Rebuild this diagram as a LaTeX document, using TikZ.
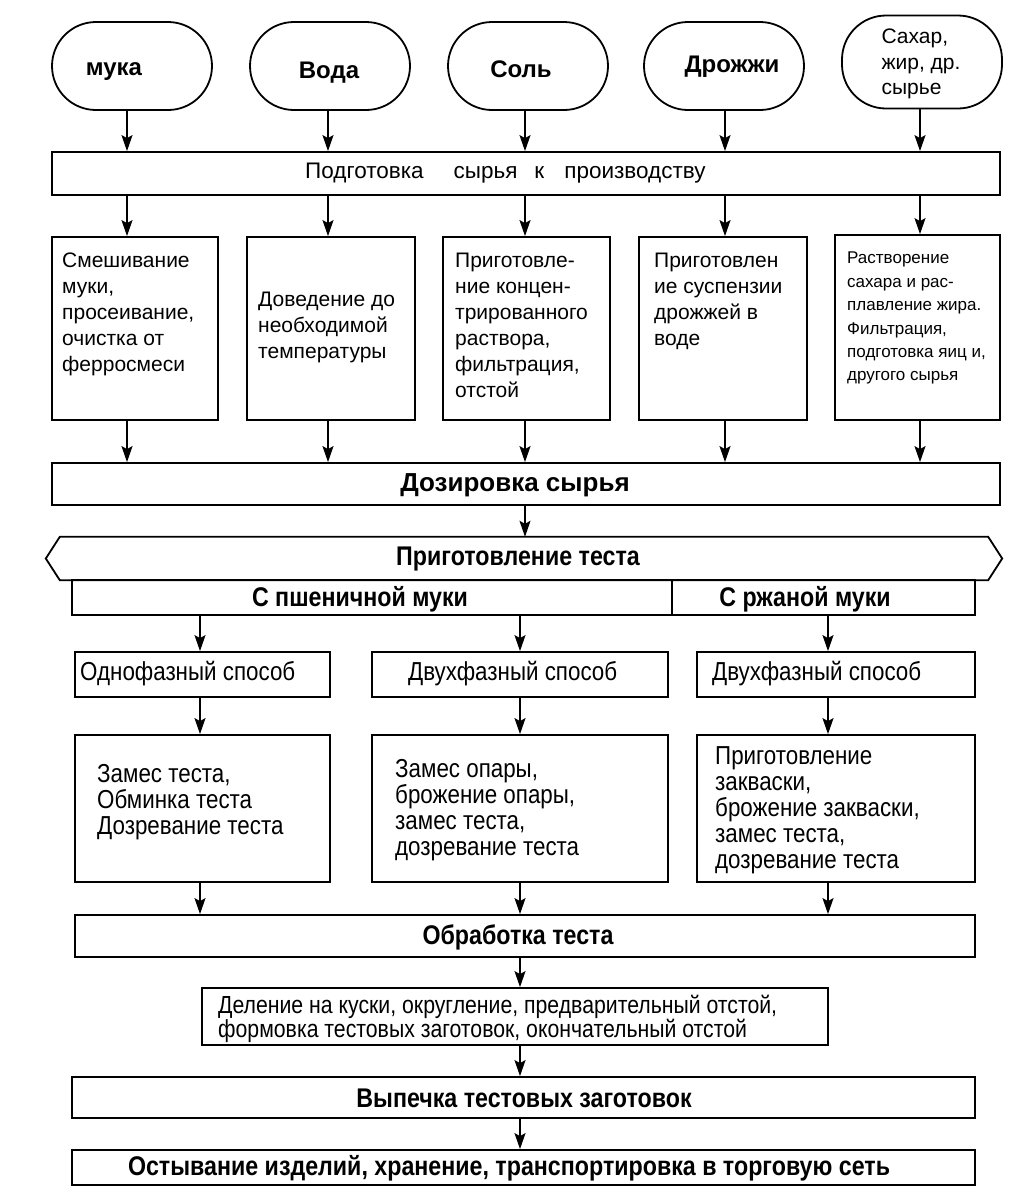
\documentclass[tikz,border=0pt]{standalone}
\usepackage{fontspec}
\setmainfont{Liberation Sans}
\newfontfamily\cond[FakeStretch=0.86]{Liberation Sans}
\usetikzlibrary{arrows.meta,calc}
\begin{document}
\begin{tikzpicture}[x=1pt,y=-1pt,
  box/.style={draw, line width=1.8pt, rectangle, inner sep=0pt},
  oval/.style={draw, line width=1.8pt, rounded corners=44pt, minimum width=160pt, minimum height=88pt, inner sep=0pt},
  ovtxt/.style={anchor=base, inner sep=0pt, font=\bfseries\fontsize{24}{28}\selectfont},
  arr/.style={line width=1.4pt, -{Stealth[length=16pt,width=11pt,inset=3pt]}},
  txt/.style={anchor=north west, inner sep=0pt, align=left, font=\fontsize{21}{26}\selectfont},
  ctxt/.style={anchor=north west, inner sep=0pt, align=left, font=\cond\fontsize{26}{26}\selectfont},
  btxt/.style={inner sep=0pt, font=\bfseries\fontsize{26}{28}\selectfont},
  cbtxt/.style={inner sep=0pt, font=\cond\bfseries\fontsize{27}{28}\selectfont}
]
\useasboundingbox[fill=white] (0,0) rectangle (1024,1203);
% column coordinates
\coordinate (c1) at (127,0);
\coordinate (c2) at (328,0);
\coordinate (c3) at (525,0);
\coordinate (c4) at (725,0);
\coordinate (c5) at (920,0);
\coordinate (w1) at (200,0);
\coordinate (w2) at (520,0);
\coordinate (w3) at (828,0);
\coordinate (ax) at (520,0);
% ovals
\node[oval] (o1) at (132,66) {};
\node[oval] (o2) at (330,66) {};
\node[oval] (o3) at (528,66) {};
\node[oval] (o4) at (724,66) {};
\node[oval, minimum height=93pt] (o5) at (922,62) {};
\node[ovtxt] (o1t) at (114,75) {мука};
\node[ovtxt] (o2t) at (329,78) {Вода};
\node[ovtxt] (o3t) at (521,77) {Соль};
\node[ovtxt] (o4t) at (732,72) {Дрожжи};
\node[inner sep=0pt, align=left, font=\fontsize{21}{25.5}\selectfont] (o5t) at (921,64) {Сахар,\\жир, др.\\сырье};
% preparation
\node[box, minimum width=948pt, minimum height=43pt] (prep) at (526,173.5) {};
\node[anchor=west, inner sep=0pt, font=\fontsize{22.5}{26}\selectfont] (prept) at (305,173) {Подготовка\hspace{30pt}сырья\hspace{17pt}к\hspace{20pt}производству};
\foreach \i in {1,...,5}{\draw[arr] (o\i.south -| c\i) -- (prep.north -| c\i);}
% second row
\node[box, minimum width=166pt, minimum height=183pt] (b1) at (135,328.5) {};
\node[box, minimum width=168pt, minimum height=183pt] (b2) at (331,328.5) {};
\node[box, minimum width=167pt, minimum height=183pt] (b3) at (526.5,328.5) {};
\node[box, minimum width=168pt, minimum height=183pt] (b4) at (723,328.5) {};
\node[box, minimum width=165pt, minimum height=185pt] (b5) at (917.5,327.5) {};
\node[txt] (t1) at (62,253) {Смешивание\\муки,\\просеивание,\\очистка от\\ферросмеси};
\node[txt] (t2) at (258,292) {Доведение до\\необходимой\\температуры};
\node[txt] (t3) at (455,253) {Приготовле-\\ние концен-\\трированного\\раствора,\\фильтрация,\\отстой};
\node[txt] (t4) at (654,253) {Приготовлен\\ие суспензии\\дрожжей в\\воде};
\node[txt, font=\fontsize{17}{23.4}\selectfont] (t5) at (847,252) {Растворение\\сахара и рас-\\плавление жира.\\Фильтрация,\\подготовка яиц и,\\другого сырья};
% dosing
\node[box, minimum width=948pt, minimum height=42pt] (doz) at (526,484) {};
\node[btxt] (dozt) at (515,485) {Дозировка сырья};
\foreach \i in {1,...,5}{
  \draw[arr] (prep.south -| c\i) -- (b\i.north -| c\i);
  \draw[arr] (b\i.south -| c\i) -- (doz.north -| c\i);
}
% dough preparation (hexagon)
\node[minimum width=928pt, minimum height=43pt, inner sep=0pt] (hex) at (524,558.5) {};
\draw[line width=1.8pt] (hex.north west) -- (hex.north east) -- ($(hex.east)+(14,0)$) -- (hex.south east) -- (hex.south west) -- ($(hex.west)+(-14,0)$) -- cycle;
\node[cbtxt] (hext) at (518,559) {Приготовление теста};
\draw[arr] (doz.south -| c3) -- (hex.north -| c3);
% wheat / rye
\node[box, minimum width=600pt, minimum height=35pt] (wh) at (372,597.5) {};
\node[box, minimum width=303pt, minimum height=35pt] (ry) at (823.5,597.5) {};
\node[cbtxt] (wht) at (360,599) {С пшеничной муки};
\node[cbtxt] (ryt) at (805,599) {С ржаной муки};
% methods
\node[box, minimum width=255pt, minimum height=45pt] (m1) at (202.5,674.5) {};
\node[box, minimum width=296pt, minimum height=45pt] (m2) at (520,674.5) {};
\node[box, minimum width=278pt, minimum height=45pt] (m3) at (836,674.5) {};
\node[ctxt, anchor=west] (m1t) at (80,674) {Однофазный способ};
\node[ctxt, anchor=west] (m2t) at (408,674) {Двухфазный способ};
\node[ctxt, anchor=west] (m3t) at (712,674) {Двухфазный способ};
\draw[arr] (wh.south -| w1) -- (m1.north -| w1);
\draw[arr] (wh.south -| w2) -- (m2.north -| w2);
\draw[arr] (ry.south -| w3) -- (m3.north -| w3);
% operations
\node[box, minimum width=255pt, minimum height=147pt] (n1) at (202.5,808.5) {};
\node[box, minimum width=296pt, minimum height=147pt] (n2) at (520,808.5) {};
\node[box, minimum width=278pt, minimum height=147pt] (n3) at (836,808.5) {};
\node[ctxt] (n1t) at (97,764) {Замес теста,\\Обминка теста\\Дозревание теста};
\node[ctxt] (n2t) at (395,759) {Замес опары,\\брожение опары,\\замес теста,\\дозревание теста};
\node[ctxt] (n3t) at (715,746) {Приготовление\\закваски,\\брожение закваски,\\замес теста,\\дозревание теста};
\draw[arr] (m1.south -| w1) -- (n1.north -| w1);
\draw[arr] (m2.south -| w2) -- (n2.north -| w2);
\draw[arr] (m3.south -| w3) -- (n3.north -| w3);
% processing
\node[box, minimum width=900pt, minimum height=42pt] (obr) at (525,936) {};
\node[cbtxt] (obrt) at (518,937) {Обработка теста};
\draw[arr] (n1.south -| w1) -- (obr.north -| w1);
\draw[arr] (n2.south -| w2) -- (obr.north -| w2);
\draw[arr] (n3.south -| w3) -- (obr.north -| w3);
\node[box, minimum width=626pt, minimum height=57pt] (del) at (515,1016.5) {};
\node[ctxt, font=\cond\fontsize{24.7}{24}\selectfont] (delt) at (218,995) {Деление на куски, округление, предварительный отстой,\\формовка тестовых заготовок, окончательный отстой};
\draw[arr] (obr.south -| ax) -- (del.north -| ax);
\node[box, minimum width=903pt, minimum height=41pt] (vyp) at (523.5,1097.5) {};
\node[cbtxt] (vypt) at (524,1098) {Выпечка тестовых заготовок};
\draw[arr] (del.south -| ax) -- (vyp.north -| ax);
\node[box, minimum width=903pt, minimum height=35pt] (ost) at (523.5,1167.5) {};
\node[cbtxt] (ostt) at (509,1168) {Остывание изделий, хранение, транспортировка в торговую сеть};
\draw[arr] (vyp.south -| ax) -- (ost.north -| ax);
\end{tikzpicture}
\end{document}
